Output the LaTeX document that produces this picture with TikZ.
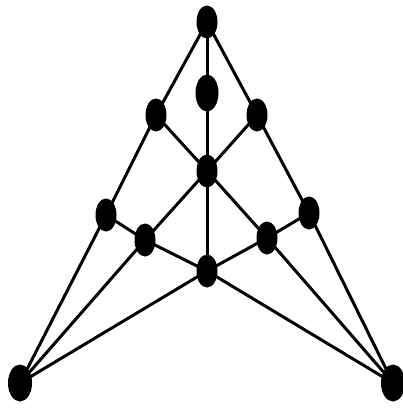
\documentclass[tikz,border=0pt]{standalone}
\usetikzlibrary{shapes.geometric}
\begin{document}
\begin{tikzpicture}[x=1pt,y=-1pt,
  vtx/.style={ellipse,fill=black,inner sep=0pt,minimum width=21pt,minimum height=33pt},
  edge/.style={draw=black,line width=3pt}]
\useasboundingbox (0,0) rectangle (403,412);
\node[vtx] (T)  at (207,22) {};
\node[vtx,minimum width=23pt,minimum height=37pt] (M)  at (207,93) {};
\node[vtx] (LU) at (156,115) {};
\node[vtx] (RU) at (257,115) {};
\node[vtx] (C)  at (207,171) {};
\node[vtx] (LM) at (106,215) {};
\node[vtx] (RM) at (309,213) {};
\node[vtx] (LI) at (145,240) {};
\node[vtx] (RI) at (267,238) {};
\node[vtx] (B)  at (207,271) {};
\node[vtx,minimum width=24pt,minimum height=37pt] (BL) at (20,383) {};
\node[vtx,minimum width=24pt,minimum height=37pt] (BR) at (393,383) {};
\foreach \a/\b in {T/M,T/LU,T/RU,M/C,C/B,LU/C,RU/C,LU/LM,RU/RM,LM/BL,RM/BR,
  C/LI,C/RI,LM/LI,RM/RI,LI/B,RI/B,LI/BL,RI/BR,B/BL,B/BR}
  \draw[edge] (\a.center) -- (\b.center);
\end{tikzpicture}
\end{document}
